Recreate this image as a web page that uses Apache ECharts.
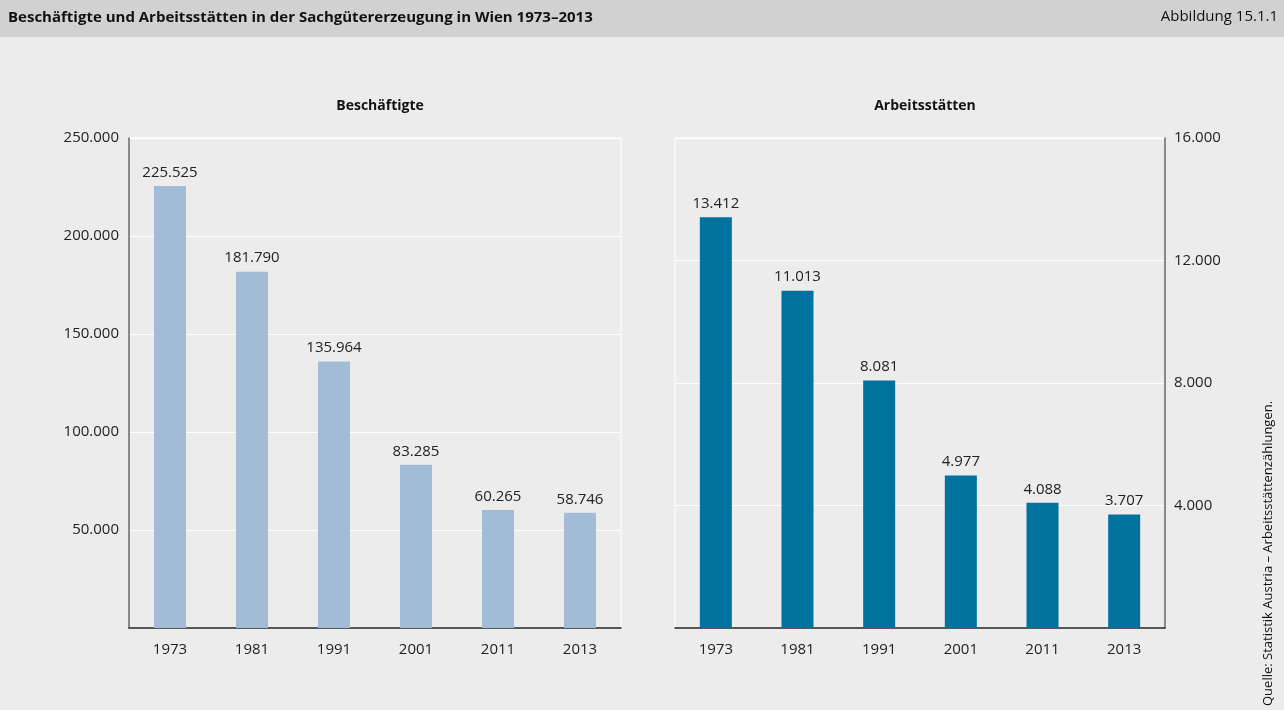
<!DOCTYPE html>
<html><head><meta charset="utf-8">
<script src="https://cdn.jsdelivr.net/npm/echarts@6/dist/echarts.min.js"></script>
<style>html,body{margin:0;padding:0;background:#ececec}#c{width:1284px;height:710px}</style>
</head><body><div id="c"></div>
<script>
const years = ['1973','1981','1991','2001','2011','2013'];
const beschaeftigte = [225525, 181790, 135964, 83285, 60265, 58746];
const arbeitsstaetten = [13412, 11013, 8081, 4977, 4088, 3707];
const leftTicks = {min:0, max:250000, interval:50000};
const rightTicks = {min:0, max:16000, interval:4000};
const title = 'Beschäftigte und Arbeitsstätten in der Sachgütererzeugung in Wien 1973–2013';
const figNo = 'Abbildung 15.1.1';
const sub1 = 'Beschäftigte', sub2 = 'Arbeitsstätten';
const source = 'Quelle: Statistik Austria – Arbeitsstättenzählungen.';

const FONT = '"Open Sans", "Noto Sans", sans-serif';
function de(v){ return String(Math.round(v)).replace(/\B(?=(\d{3})+(?!\d))/g,'.'); }
const chart = echarts.init(document.getElementById('c'));
const axisLabelBase = {color:'#222', fontSize:15, fontFamily:FONT};
chart.setOption({
  backgroundColor:'#ececec',
  animation:false,
  graphic:[
    {type:'rect', left:0, top:0, shape:{width:1284, height:37}, style:{fill:'#d1d1d1'}},
    {type:'text', left:8, top:10, style:{text:title, font:'bold 15px "Liberation Sans Narrow", "Open Sans", sans-serif', fill:'#111'}},
    {type:'text', right:6, top:9, style:{text:figNo, font:'15px "Open Sans", sans-serif', fill:'#111'}},
    {type:'text', x:1262, y:706, rotation:Math.PI/2, style:{text:source, font:'13px "Liberation Sans Narrow", "Open Sans", sans-serif', fill:'#111', textAlign:'left', textVerticalAlign:'top'}}
  ],
  title:[
    {text:sub1, left:375, top:94, textAlign:'center', textStyle:{fontSize:14, fontWeight:'bold', color:'#111', fontFamily:FONT}},
    {text:sub2, left:920, top:94, textAlign:'center', textStyle:{fontSize:14, fontWeight:'bold', color:'#111', fontFamily:FONT}}
  ],
  grid:[
    {left:129, top:138, width:492, height:490, show:true, borderColor:'#ffffff', borderWidth:1, backgroundColor:'transparent'},
    {left:675, top:138, width:490, height:490, show:true, borderColor:'#ffffff', borderWidth:1, backgroundColor:'transparent'}
  ],
  xAxis:[
    {type:'category', gridIndex:0, data:years, axisTick:{show:false}, axisLine:{lineStyle:{color:'#222', width:1.5}}, axisLabel:Object.assign({margin:14}, axisLabelBase)},
    {type:'category', gridIndex:1, data:years, axisTick:{show:false}, axisLine:{lineStyle:{color:'#222', width:1.5}}, axisLabel:Object.assign({margin:14}, axisLabelBase)}
  ],
  yAxis:[
    {type:'value', gridIndex:0, position:'left', min:leftTicks.min, max:leftTicks.max, interval:leftTicks.interval,
     axisLine:{show:true, lineStyle:{color:'#666', width:1.5}}, axisTick:{show:false},
     splitLine:{lineStyle:{color:'#ffffff', width:1}},
     axisLabel:Object.assign({margin:10, formatter:v=>v===0?'':de(v)}, axisLabelBase)},
    {type:'value', gridIndex:1, position:'right', min:rightTicks.min, max:rightTicks.max, interval:rightTicks.interval,
     axisLine:{show:true, lineStyle:{color:'#666', width:1.5}}, axisTick:{show:false},
     splitLine:{lineStyle:{color:'#ffffff', width:1}},
     axisLabel:Object.assign({margin:9, formatter:v=>v===0?'':de(v)}, axisLabelBase)}
  ],
  series:[
    {type:'bar', xAxisIndex:0, yAxisIndex:0, data:beschaeftigte, barWidth:32, itemStyle:{color:'#a3bcd5'},
     label:{show:true, position:'top', distance:6, formatter:p=>de(p.value), color:'#222', fontSize:15, fontFamily:FONT}},
    {type:'bar', xAxisIndex:1, yAxisIndex:1, data:arbeitsstaetten, barWidth:32, itemStyle:{color:'#00729e'},
     label:{show:true, position:'top', distance:6, formatter:p=>de(p.value), color:'#222', fontSize:15, fontFamily:FONT}}
  ]
});
</script></body></html>
